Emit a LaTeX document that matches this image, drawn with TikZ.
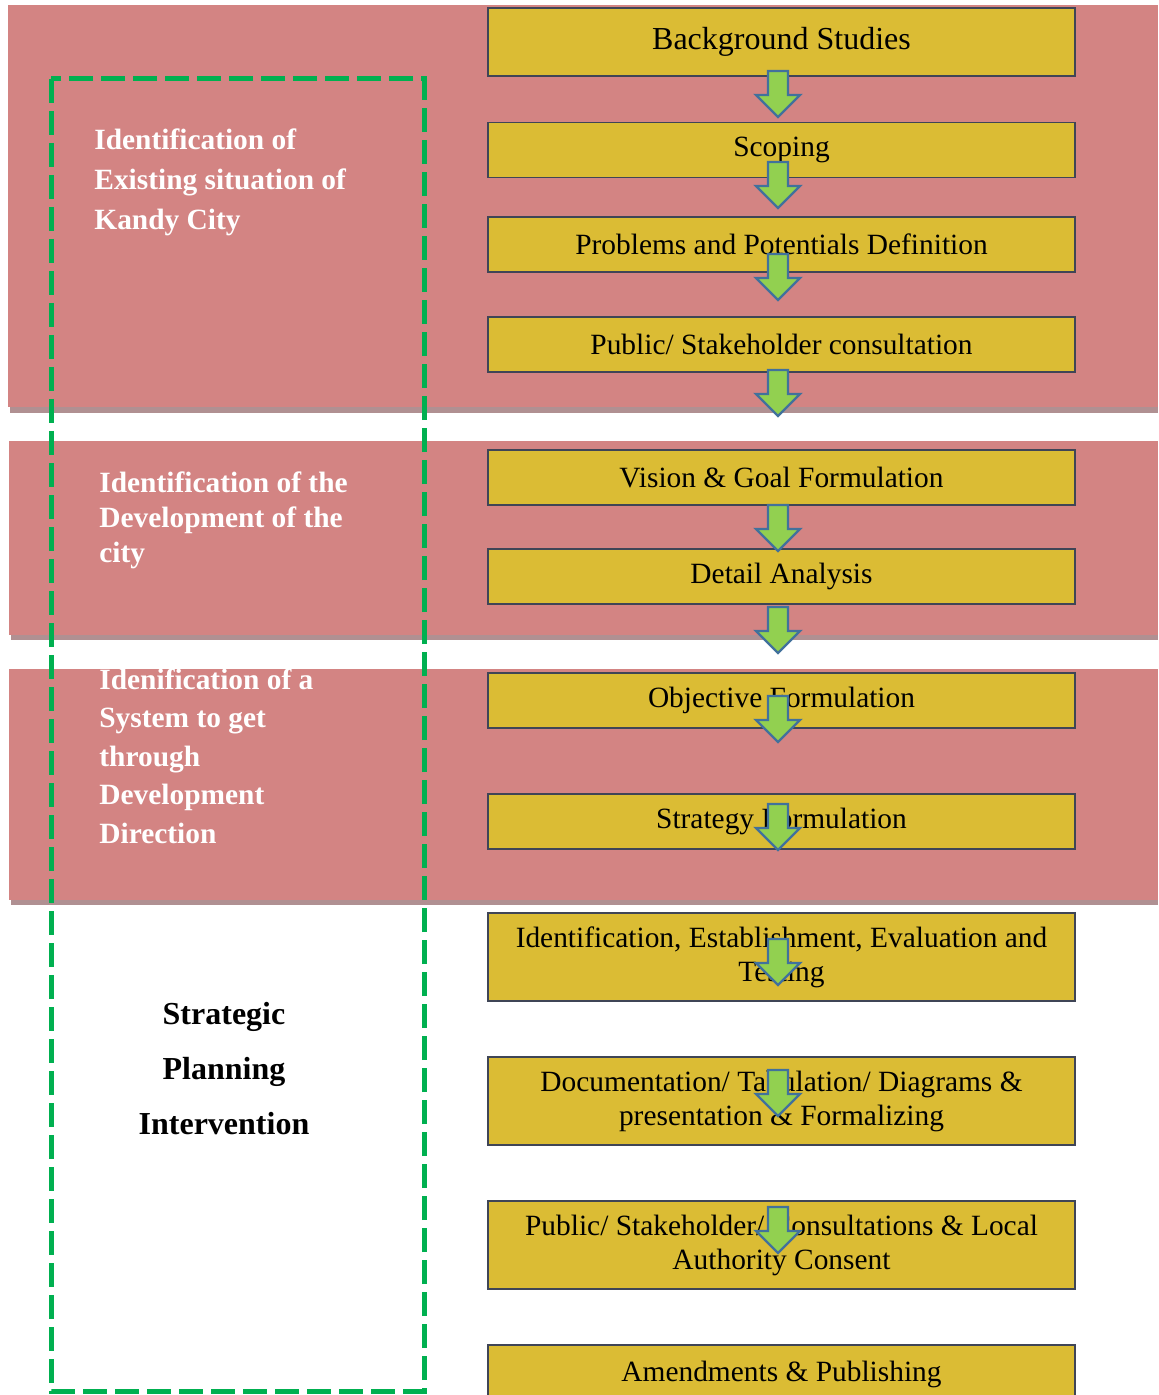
\documentclass[tikz,border=0pt]{standalone}
\usepackage{fontspec}
\setmainfont{Liberation Serif}
\usepackage{xcolor}

\definecolor{bandpink}{HTML}{D38483}
\definecolor{bandshade}{HTML}{B09092}
\definecolor{stepyellow}{HTML}{DBBC34}
\definecolor{stepedge}{HTML}{3F4556}
\definecolor{framegreen}{HTML}{00B050}
\definecolor{arrowgreen}{HTML}{92D050}
\definecolor{arrowblue}{HTML}{41719C}

\tikzset{
  stepbox/.style={draw=stepedge, line width=0.9pt, fill=stepyellow,
    minimum width=293.5pt, inner sep=0pt, align=center,
    font=\fontsize{14.7}{17}\selectfont},
  phasetext/.style={text=white, anchor=west, align=left, inner sep=0pt,
    font=\bfseries\fontsize{14.7}{#1}\selectfont},
  flowarrow/.style={fill=arrowgreen, draw=arrowblue, line width=1.2pt}
}

% block arrow, #1 = top of the shaft
\newcommand\downblock[1]{%
  \draw[flowarrow] (768,#1) -- (788,#1) -- (788,#1+24) -- (800,#1+24)
    -- (778,#1+46) -- (756,#1+24) -- (768,#1+24) -- cycle;}

\begin{document}
\begin{tikzpicture}[x=0.5pt,y=-0.5pt]
    \useasboundingbox (0,0) rectangle (1158,1395);
    % phase bands
    \fill[bandshade] (10,12) rectangle (1158,413);
    \fill[bandpink] (8,5) rectangle (1158,407);
    \fill[bandshade] (11,447) rectangle (1158,640);
    \fill[bandpink] (9,441) rectangle (1158,635);
    \fill[bandshade] (11,675) rectangle (1158,905);
    \fill[bandpink] (9,669) rectangle (1158,900);
    % phase labels
    \node[phasetext=20pt] (existing) at (94,182)
      {Identification of\\Existing situation of\\Kandy City};
    \node[phasetext=17.5pt] (development) at (99,520)
      {Identification of the\\Development of the\\city};
    \node[phasetext=19.3pt] (direction) at (99,756)
      {Idenification of a\\System to get\\through\\Development\\Direction};
    \node[font=\bfseries\fontsize{16}{27.5}\selectfont, align=center] (strategic) at (224,1069)
      {Strategic\\Planning\\Intervention};
    % dashed frame
    \draw[framegreen, line width=2.5pt, dash pattern=on 12pt off 4pt]
      (51,79) rectangle (424,1391);
    % steps
    \node[stepbox, minimum height=34pt, font=\fontsize{16}{19}\selectfont] (studies) at (781.5,42) {Background Studies};
    \node[stepbox, minimum height=27.5pt] (scoping) at (781.5,150) {Scoping};
    \node[stepbox, minimum height=27.5pt] (problems) at (781.5,244.5) {Problems and Potentials Definition};
    \node[stepbox, minimum height=27.5pt] (consult) at (781.5,344.5) {Public/ Stakeholder consultation};
    \node[stepbox, minimum height=27.5pt] (vision) at (781.5,477.5) {Vision \& Goal Formulation};
    \node[stepbox, minimum height=27.5pt] (detail) at (781.5,576.5) {Detail Analysis};
    \node[stepbox, minimum height=27.5pt] (objective) at (781.5,700.5) {Objective Formulation};
    \node[stepbox, minimum height=27.5pt] (strategy) at (781.5,821.5) {Strategy Formulation};
    \node[stepbox, minimum height=44pt] (testing) at (781.5,957)
      {Identification, Establishment, Evaluation and\\Testing};
    \node[stepbox, minimum height=44pt] (document) at (781.5,1101)
      {Documentation/ Tabulation/ Diagrams \&\\presentation \& Formalizing};
    \node[stepbox, minimum height=44pt] (consent) at (781.5,1245)
      {Public/ Stakeholder/ Consultations \& Local\\Authority Consent};
    \node[stepbox, minimum height=29pt] (publish) at (781.5,1374) {Amendments \& Publishing};
    % arrows
    \foreach \top in {71,162,254,370,505,607,696,804,939,1070,1207}
      {\downblock{\top}}
\end{tikzpicture}
\end{document}
